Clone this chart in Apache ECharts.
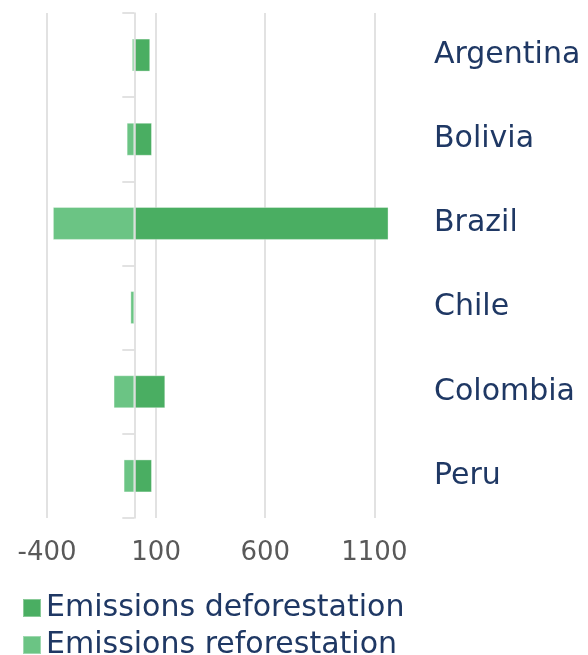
<!DOCTYPE html>
<html>
<head>
<meta charset="utf-8">
<script src="https://cdn.jsdelivr.net/npm/echarts@6/dist/echarts.min.js"></script>
<style>
  html, body { margin: 0; padding: 0; background: #ffffff; }
  #chart { width: 588px; height: 655px; }
</style>
</head>
<body>
<div id="chart"></div>
<script>
// Land-use emissions by country (deforestation vs. reforestation)
const countries = ['Argentina', 'Bolivia', 'Brazil', 'Chile', 'Colombia', 'Peru'];
const deforestation = [73, 81, 1165, 0, 142, 81];
const reforestation = [-11, -35, -373, -18, -95, -49];
const seriesNames = ['Emissions deforestation', 'Emissions reforestation'];
const axisMin = -400;
const axisMax = 1300;
const axisStep = 500;

const FONT = 'DejaVu Sans';
const NAVY = '#1f3864';
const GRID_GREY = '#d9d9d9';

const chart = echarts.init(document.getElementById('chart'), null, { renderer: 'canvas' });

chart.setOption({
  animation: false,
  backgroundColor: '#ffffff',
  textStyle: { fontFamily: FONT },
  grid: { left: 47, right: 170, top: 13, bottom: 137, containLabel: false },
  xAxis: {
    type: 'value',
    min: axisMin,
    max: axisMax,
    interval: axisStep,
    axisLine: { show: false },
    axisTick: { show: false },
    axisLabel: {
      showMaxLabel: false,
      formatter: (v) => String(v),
      fontFamily: FONT,
      fontSize: 26,
      color: '#595959',
      margin: 22
    },
    splitLine: {
      show: true,
      showMaxLine: false,
      lineStyle: { color: GRID_GREY, width: 1.5 }
    }
  },
  yAxis: [
    {
      // zero line with category separators
      type: 'category',
      data: countries,
      inverse: true,
      z: 5,
      axisLine: { show: true, onZero: true, lineStyle: { color: GRID_GREY, width: 1.5 } },
      axisTick: { show: true, length: 12, lineStyle: { color: GRID_GREY, width: 1.5 } },
      axisLabel: { show: false },
      splitLine: { show: false }
    },
    {
      // country names on the right
      type: 'category',
      data: countries,
      inverse: true,
      position: 'right',
      axisLine: { show: false, onZero: false },
      axisTick: { show: false },
      axisLabel: {
        fontFamily: FONT,
        fontSize: 30,
        color: NAVY,
        margin: 16
      },
      splitLine: { show: false }
    }
  ],
  legend: {
    orient: 'vertical',
    left: 17,
    top: 588,
    height: 90,
    itemWidth: 18,
    itemHeight: 18,
    itemGap: 7,
    icon: 'rect',
    data: seriesNames,
    textStyle: { fontFamily: FONT, fontSize: 30, color: NAVY, lineHeight: 30 }
  },
  series: [
    {
      name: seriesNames[0],
      type: 'bar',
      stack: 'emissions',
      yAxisIndex: 0,
      barWidth: 33,
      data: deforestation,
      itemStyle: { color: '#4aae62', borderColor: 'rgba(255,255,255,0.35)', borderWidth: 1 }
    },
    {
      name: seriesNames[1],
      type: 'bar',
      stack: 'emissions',
      yAxisIndex: 0,
      barWidth: 33,
      data: reforestation,
      itemStyle: { color: '#6bc484', borderColor: 'rgba(255,255,255,0.35)', borderWidth: 1 }
    }
  ]
});
</script>
</body>
</html>
